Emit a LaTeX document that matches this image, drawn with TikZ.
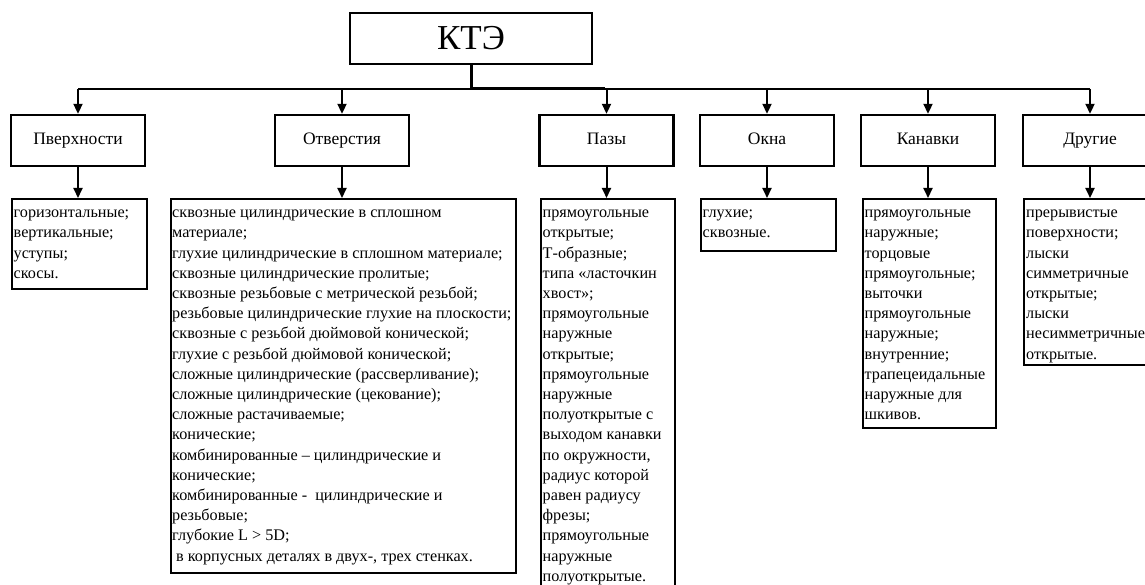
\documentclass[tikz,border=0pt]{standalone}
\usepackage{fontspec}
\setmainfont{Liberation Serif}
\usetikzlibrary{arrows.meta}
\begin{document}
\begin{tikzpicture}[x=1pt,y=-1pt,
  box/.style={draw=black,line width=2.4pt,rectangle,inner sep=0pt,fill=none},
  head/.style={box,minimum width=134pt,minimum height=51pt,text height=12pt,text depth=4pt,font=\fontsize{17.5}{20}\selectfont},
  low/.style={box,anchor=north west},
  txt/.style={anchor=north west,inner sep=0pt,align=left,font=\fontsize{16.2}{20.2}\selectfont},
  arr/.style={line width=2pt,-{Triangle[length=10pt,width=9pt]}},
  bus/.style={line width=2pt},
  trunk/.style={line width=3pt}]
\useasboundingbox (0,0) rectangle (1145,585);
\newcommand{\fs}{\rule{0pt}{15pt}}
% top
\node[box,minimum width=242pt,minimum height=51pt,text height=23pt,text depth=0pt,font=\fontsize{35}{38}\selectfont] (kte) at (471,38.5) {КТЭ};
% headers
\node[head] (h1) at (78,140.5) {Пверхности};
\node[head] (h2) at (342,140.5) {Отверстия};
\node[head] (h3) at (606.5,140.5) {Пазы};
\node[head] (h4) at (767,140.5) {Окна};
\node[head] (h5) at (928,140.5) {Канавки};
\node[head] (h6) at (1090,140.5) {Другие};
% lower boxes
\node[low,minimum width=135pt,minimum height=90pt] (l1) at (10.5,198) {};
\node[low,minimum width=345pt,minimum height=374pt] (l2) at (169.5,198) {};
\node[low,minimum width=134pt,minimum height=400pt] (l3) at (539.5,198) {};
\node[low,minimum width=135pt,minimum height=52pt] (l4) at (699.5,198) {};
\node[low,minimum width=133pt,minimum height=229pt] (l5) at (861.5,198) {};
\node[low,minimum width=134pt,minimum height=166pt] (l6) at (1023,198) {};
% texts
\node[txt] (t1) at ([shift={(3,4.5)}]l1.north west) {\fs горизонтальные;\\вертикальные;\\уступы;\\скосы.};
\node[txt] (t2) at ([shift={(2.5,4.5)}]l2.north west) {\fs сквозные цилиндрические в сплошном\\материале;\\глухие цилиндрические в сплошном материале;\\сквозные цилиндрические пролитые;\\сквозные резьбовые с метрической резьбой;\\резьбовые цилиндрические глухие на плоскости;\\сквозные с резьбой дюймовой конической;\\глухие с резьбой дюймовой конической;\\сложные цилиндрические (рассверливание);\\сложные цилиндрические (цекование);\\сложные растачиваемые;\\конические;\\комбинированные – цилиндрические и\\конические;\\комбинированные -\ \ цилиндрические и\\резьбовые;\\глубокие L > 5D;\\\hspace*{4pt}в корпусных деталях в двух-, трех стенках.};
\node[txt] (t3) at ([shift={(3,4.5)}]l3.north west) {\fs прямоугольные\\открытые;\\Т-образные;\\типа «ласточкин\\хвост»;\\прямоугольные\\наружные\\открытые;\\прямоугольные\\наружные\\полуоткрытые с\\выходом канавки\\по окружности,\\радиус которой\\равен радиусу\\фрезы;\\прямоугольные\\наружные\\полуоткрытые.};
\node[txt] (t4) at ([shift={(3,4.5)}]l4.north west) {\fs глухие;\\сквозные.};
\node[txt] (t5) at ([shift={(3,4.5)}]l5.north west) {\fs прямоугольные\\наружные;\\торцовые\\прямоугольные;\\выточки\\прямоугольные\\наружные;\\внутренние;\\трапецеидальные\\наружные для\\шкивов.};
\node[txt] (t6) at ([shift={(3,4.5)}]l6.north west) {\fs прерывистые\\поверхности;\\лыски\\симметричные\\открытые;\\лыски\\несимметричные\\открытые.};
% bus
\coordinate (jr) at (605,89);
\foreach \i in {1,...,6} {\coordinate (b\i) at (h\i.north |- jr);}
\draw[bus] (b1) -- (b6);
\draw[trunk] (kte.south) |- (jr);
\foreach \i in {1,...,6} {
  \draw[arr] (b\i) -- (h\i.north);
  \draw[arr] (h\i.south) -- (h\i.south |- l\i.north);
}
\end{tikzpicture}
\end{document}
